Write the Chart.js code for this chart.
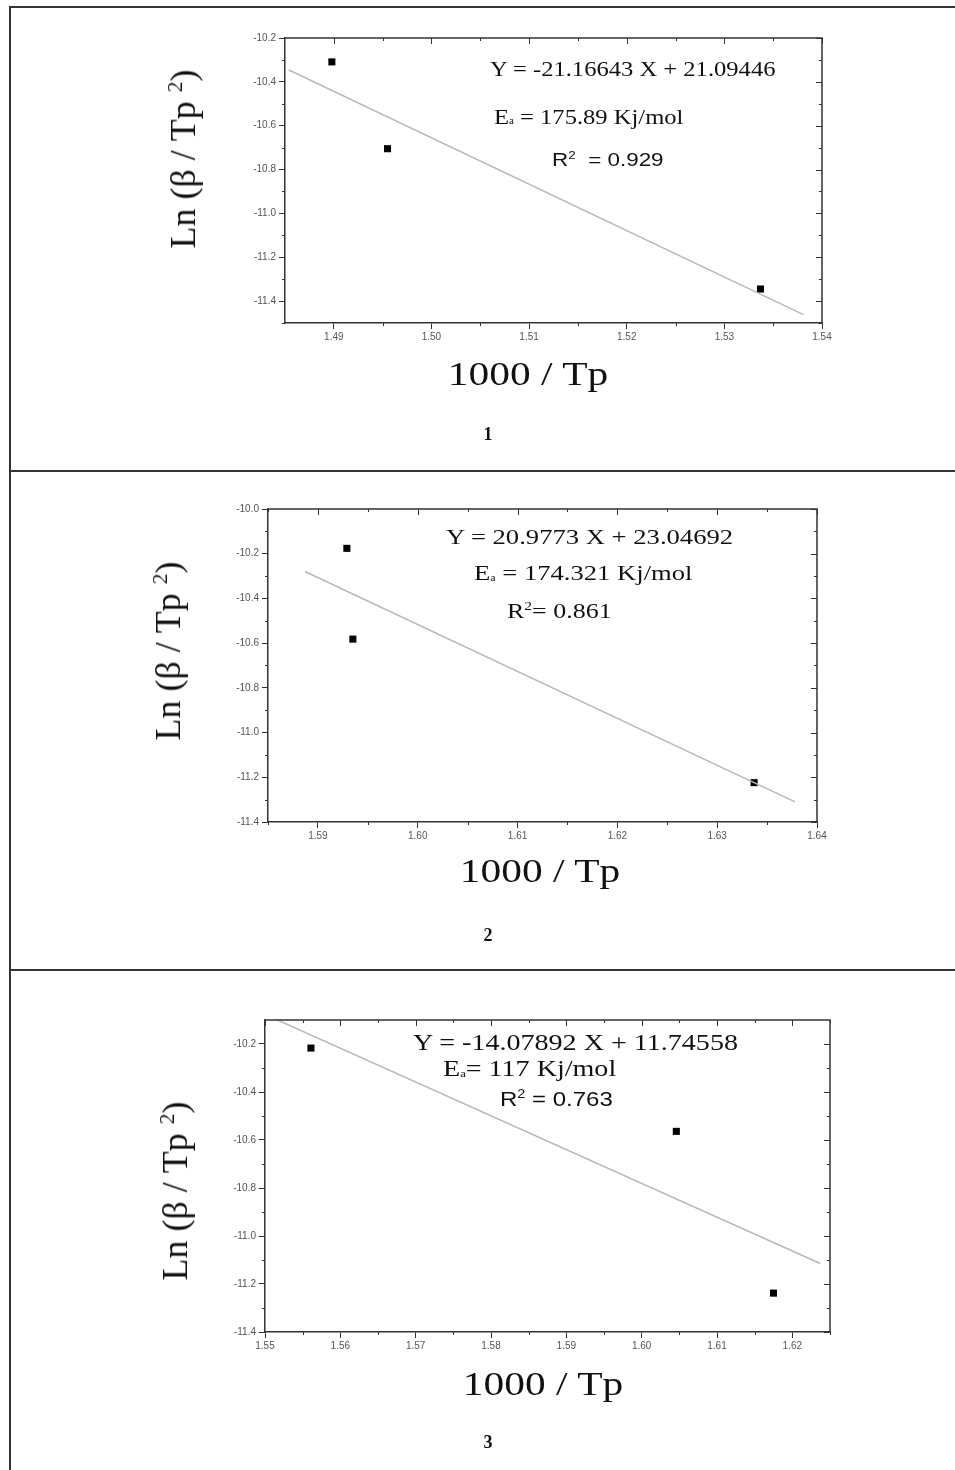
<!doctype html>
<html lang="en">
  <head>
    <meta charset="UTF-8" />
    <title>Kissinger plots</title>
    <script src="https://cdn.jsdelivr.net/npm/chart.js"></script>
    <style>
      body { margin: 0; background: #fff; }
      #page { position: relative; width: 955px; height: 1470px; overflow: hidden; }
      .rule { position: absolute; background: #333; }
      canvas { position: absolute; left: 0; }
      .txt { position: absolute; white-space: nowrap; color: #111; font-family: "Liberation Serif", serif; transform-origin: left center; }
      .eq { font-size: 22px; transform: translateY(-50%) scaleX(1.18); }
      .eq.s1 { font-size: 21px; transform: translateY(-50%) scaleX(1.17); }
      .eq.s2 { font-size: 22px; transform: translateY(-50%) scaleX(1.21); }
      .eq.s3 { font-size: 23px; transform: translateY(-50%) scaleX(1.22); }
      .sans { font-family: "Liberation Sans", sans-serif; font-size: 19px; }
      .sans.s3 { font-size: 20px; transform: translateY(-50%) scaleX(1.2); }
      .xt { font-size: 34px; transform: translate(-50%, -50%) scaleX(1.22); transform-origin: center; }
      .yt { font-size: 36px; transform: translate(-50%, -50%) rotate(-90deg); transform-origin: center; }
      .num { font-size: 18px; font-weight: bold; transform: translate(-50%, -50%); }
      sub { font-size: 45%; vertical-align: -0.1em; }
      sup { font-size: 60%; }
    </style>
  </head>
  <body>
    <div id="page">
      <div class="rule" style="left:9px; top:6px; width:2px; height:1464px"></div>
      <div class="rule" style="left:9px; top:6px; width:946px; height:2px"></div>
      <div class="rule" style="left:9px; top:470px; width:946px; height:2px"></div>
      <div class="rule" style="left:9px; top:969px; width:946px; height:2px"></div>

      <canvas id="plot1" width="955" height="470" style="top:0px"></canvas>
      <canvas id="plot2" width="955" height="497" style="top:472px"></canvas>
      <canvas id="plot3" width="955" height="498" style="top:972px"></canvas>

      <!-- panel 1 -->
      <div class="txt eq s1" style="left:490px; top:69px">Y = -21.16643 X + 21.09446</div>
      <div class="txt eq s1" style="left:494px; top:117px">E<sub>a</sub> = 175.89 Kj/mol</div>
      <div class="txt eq sans" style="left:552px; top:160px">R<sup>2</sup> &nbsp;= 0.929</div>
      <div class="txt xt" style="left:528px; top:374px">1000 / Tp</div>
      <div class="txt yt" style="left:183px; top:159px">Ln (β / Tp <sup>2</sup>)</div>
      <div class="txt num" style="left:488px; top:434px">1</div>

      <!-- panel 2 -->
      <div class="txt eq s2" style="left:446px; top:537px">Y = 20.9773 X + 23.04692</div>
      <div class="txt eq s2" style="left:474px; top:573px">E<sub>a</sub> = 174.321 Kj/mol</div>
      <div class="txt eq" style="left:507px; top:611px">R<sup>2</sup>= 0.861</div>
      <div class="txt xt" style="left:540px; top:871px">1000 / Tp</div>
      <div class="txt yt" style="left:168px; top:651px">Ln (β / Tp <sup>2</sup>)</div>
      <div class="txt num" style="left:488px; top:935px">2</div>

      <!-- panel 3 -->
      <div class="txt eq s3" style="left:413px; top:1043px">Y = -14.07892 X + 11.74558</div>
      <div class="txt eq s3" style="left:443px; top:1069px">E<sub>a</sub>= 117 Kj/mol</div>
      <div class="txt eq sans s3" style="left:500px; top:1099px">R<sup>2</sup> = 0.763</div>
      <div class="txt xt" style="left:543px; top:1384px">1000 / Tp</div>
      <div class="txt yt" style="left:175px; top:1191px">Ln (β / Tp <sup>2</sup>)</div>
      <div class="txt num" style="left:488px; top:1442px">3</div>
    </div>

    <script>
      // panel 1
      const p1X = [1.4898, 1.4955, 1.5337];
      const p1Y = [-10.309, -10.705, -11.345];
      const p1FitX = [1.4854, 1.5381];
      const p1Slope = -21.16643;
      const p1Intercept = 21.09446;
      const p1XTicks = [1.49, 1.50, 1.51, 1.52, 1.53, 1.54];
      const p1YTicks = [-10.2, -10.4, -10.6, -10.8, -11.0, -11.2, -11.4];

      // panel 2 (label prints the slope without its minus sign)
      const p2X = [1.5929, 1.5935, 1.6337];
      const p2Y = [-10.176, -10.582, -11.224];
      const p2FitX = [1.5887, 1.6378];
      const p2Slope = -20.9773;
      const p2Intercept = 23.04692;
      const p2XTicks = [1.59, 1.60, 1.61, 1.62, 1.63, 1.64];
      const p2YTicks = [-10.0, -10.2, -10.4, -10.6, -10.8, -11.0, -11.2, -11.4];

      // panel 3
      const p3X = [1.5561, 1.6046, 1.6175];
      const p3Y = [-10.217, -10.564, -11.238];
      const p3FitX = [1.5513, 1.6237];
      const p3Slope = -14.07892;
      const p3Intercept = 11.74558;
      const p3XTicks = [1.55, 1.56, 1.57, 1.58, 1.59, 1.60, 1.61, 1.62];
      const p3YTicks = [-10.2, -10.4, -10.6, -10.8, -11.0, -11.2, -11.4];

      const AXIS = "#333";
      const Y_AXIS_W = 60;
      const X_AXIS_H = 30;

      // closes the box and adds minor ticks plus inward ticks on top/right
      const frameTicks = {
        id: "frameTicks",
        afterDraw(chart) {
          const { ctx, chartArea: a, scales } = chart;
          const sx = scales.x, sy = scales.y;
          ctx.save();
          ctx.strokeStyle = AXIS;
          ctx.lineWidth = 1.5;
          ctx.beginPath();
          ctx.moveTo(a.left, a.top);
          ctx.lineTo(a.right, a.top);
          ctx.lineTo(a.right, a.bottom);
          ctx.stroke();

          ctx.lineWidth = 1;
          const minors = (ticks, min, max) => {
            const vals = ticks.map((t) => t.value);
            const step = vals[1] - vals[0];
            const out = [];
            for (let i = -1; i < vals.length; i++) {
              const v = (i < 0 ? vals[0] - step : vals[i]) + step / 2;
              if (v >= Math.min(min, max) && v <= Math.max(min, max)) out.push(v);
            }
            return out;
          };
          ctx.beginPath();
          for (const v of minors(sx.ticks, sx.min, sx.max)) {
            const px = Math.round(sx.getPixelForValue(v)) + 0.5;
            ctx.moveTo(px, a.bottom); ctx.lineTo(px, a.bottom + 3);
            ctx.moveTo(px, a.top); ctx.lineTo(px, a.top + 3);
          }
          for (const t of sx.ticks) {
            const px = Math.round(sx.getPixelForValue(t.value)) + 0.5;
            ctx.moveTo(px, a.top); ctx.lineTo(px, a.top + 6);
          }
          for (const v of minors(sy.ticks, sy.min, sy.max)) {
            const py = Math.round(sy.getPixelForValue(v)) + 0.5;
            ctx.moveTo(a.left, py); ctx.lineTo(a.left - 3, py);
            ctx.moveTo(a.right, py); ctx.lineTo(a.right - 3, py);
          }
          for (const t of sy.ticks) {
            const py = Math.round(sy.getPixelForValue(t.value)) + 0.5;
            ctx.moveTo(a.right, py); ctx.lineTo(a.right - 6, py);
          }
          ctx.stroke();
          ctx.restore();
        },
      };

      function buildChart(id, d) {
        const canvas = document.getElementById(id);
        const fit = d.fitX.map((x) => ({ x, y: d.slope * x + d.intercept }));
        const pts = d.x.map((x, i) => ({ x, y: d.y[i] }));
        const tickFont = { family: "Liberation Sans", size: 10 };
        return new Chart(canvas, {
          type: "scatter",
          data: {
            datasets: [
              {
                data: fit,
                showLine: true,
                borderColor: "#b9b9b9",
                borderWidth: 1.5,
                pointRadius: 0,
              },
              {
                data: pts,
                pointStyle: "rect",
                pointRadius: 5,
                backgroundColor: "#000",
                borderWidth: 0,
              },
            ],
          },
          options: {
            responsive: false,
            animation: false,
            events: [],
            layout: {
              padding: {
                left: d.area[0] - Y_AXIS_W,
                top: d.area[1],
                right: canvas.width - d.area[2],
                bottom: canvas.height - d.area[3] - X_AXIS_H,
              },
            },
            plugins: { legend: { display: false }, tooltip: { enabled: false } },
            scales: {
              x: {
                type: "linear",
                min: d.xRange[0],
                max: d.xRange[1],
                afterBuildTicks: (s) => { s.ticks = d.xTicks.map((v) => ({ value: v })); },
                afterFit: (s) => { s.height = X_AXIS_H; },
                grid: { drawOnChartArea: false, tickLength: 6, color: AXIS, lineWidth: 1 },
                border: { color: AXIS, width: 1.5 },
                ticks: {
                  padding: 2,
                  autoSkip: false,
                  maxRotation: 0,
                  color: "#555",
                  font: tickFont,
                  callback: (v) => Number(v).toFixed(2),
                },
              },
              y: {
                type: "linear",
                min: d.yRange[0],
                max: d.yRange[1],
                afterBuildTicks: (s) => { s.ticks = d.yTicks.map((v) => ({ value: v })); },
                afterFit: (s) => { s.width = Y_AXIS_W; },
                grid: { drawOnChartArea: false, tickLength: 6, color: AXIS, lineWidth: 1 },
                border: { color: AXIS, width: 1.5 },
                ticks: {
                  padding: 3,
                  autoSkip: false,
                  color: "#555",
                  font: tickFont,
                  callback: (v) => Number(v).toFixed(1),
                },
              },
            },
          },
          plugins: [frameTicks],
        });
      }

      buildChart("plot1", {
        x: p1X, y: p1Y, fitX: p1FitX, slope: p1Slope, intercept: p1Intercept,
        xTicks: p1XTicks, yTicks: p1YTicks,
        xRange: [1.485, 1.54], yRange: [-11.5, -10.2],
        area: [285, 38, 822, 323],
      });
      buildChart("plot2", {
        x: p2X, y: p2Y, fitX: p2FitX, slope: p2Slope, intercept: p2Intercept,
        xTicks: p2XTicks, yTicks: p2YTicks,
        xRange: [1.585, 1.64], yRange: [-11.4, -10.0],
        area: [268, 37, 817, 350],
      });
      buildChart("plot3", {
        x: p3X, y: p3Y, fitX: p3FitX, slope: p3Slope, intercept: p3Intercept,
        xTicks: p3XTicks, yTicks: p3YTicks,
        xRange: [1.55, 1.625], yRange: [-11.4, -10.1],
        area: [265, 48, 830, 360],
      });
    </script>
  </body>
</html>
